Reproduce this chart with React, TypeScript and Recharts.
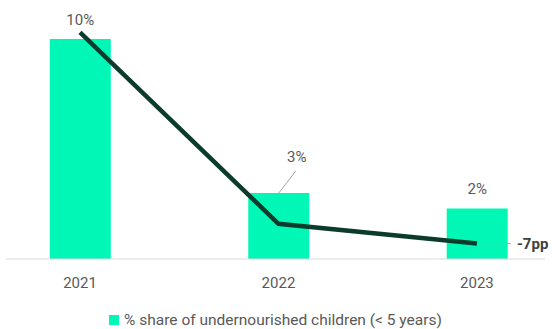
import { ComposedChart, Bar, Line, XAxis, YAxis, Legend, LabelList } from 'recharts';

const years = [2021, 2022, 2023];
const shareValues = [10, 3, 2.3];
const shareLabels = ['10%', '3%', '2%'];
const trendValues = [10.3, 1.6, 0.7];
const changeLabel = '-7pp';
const seriesName = '% share of undernourished children (< 5 years)';

const data = years.map((year, i) => ({
  year,
  share: shareValues[i],
  trend: trendValues[i],
}));

const FONT = 'Roboto, "Liberation Sans", Arial, sans-serif';
const BAR_COLOR = '#00F7B5';
const LINE_COLOR = '#0B3B2C';

const ShareLabel = (props: any) => {
  const { x, y, width, index } = props;
  const cx = x + width / 2;
  if (index === 1) {
    // label pushed up and right, with a small leader line
    return (
      <g>
        <line x1={cx} y1={y} x2={cx + 17} y2={y - 22} stroke="#a6a6a6" strokeWidth={1} />
        <text x={cx + 18} y={y - 31} textAnchor="middle" fontSize={15} fill="#595959" fontFamily={FONT}>
          {shareLabels[index]}
        </text>
      </g>
    );
  }
  return (
    <text x={cx} y={y - 14} textAnchor="middle" fontSize={15} fill="#595959" fontFamily={FONT}>
      {shareLabels[index]}
    </text>
  );
};

const ChangeLabel = (props: any) => {
  const { x, y, index } = props;
  if (index !== years.length - 1) return null;
  return (
    <g>
      <line x1={x + 2} y1={y} x2={x + 34} y2={y} stroke="#a6a6a6" strokeWidth={1} />
      <text x={x + 40} y={y + 5} fontSize={15} fontWeight="bold" fill="#404040" fontFamily={FONT}>
        {changeLabel}
      </text>
    </g>
  );
};

const LegendContent = () => (
  <div style={{ display: 'flex', justifyContent: 'center', alignItems: 'center', paddingTop: 23, lineHeight: '16px', fontFamily: FONT, fontSize: 15.5, color: '#595959' }}>
    <span style={{ display: 'inline-block', width: 10, height: 10, background: BAR_COLOR, marginRight: 5 }} />
    <span>{seriesName}</span>
  </div>
);

export default function App() {
  return (
    <div style={{ position: 'absolute', left: 0, top: 0, background: '#fff' }}>
      <ComposedChart width={552} height={329} data={data} margin={{ top: 17, right: 7, bottom: 0, left: 6 }}>
        <XAxis
          dataKey="year"
          type="number"
          domain={[2020.627, 2023.343]}
          ticks={years}
          tickLine={false}
          axisLine={{ stroke: '#d9d9d9' }}
          tick={{ fontSize: 15, fill: '#595959', fontFamily: FONT }}
          tickMargin={12}
          height={30}
        />
        <YAxis hide domain={[0, 11]} />
        <Legend verticalAlign="bottom" height={40} content={<LegendContent />} />
        <Bar dataKey="share" fill={BAR_COLOR} barSize={61} isAnimationActive={false}>
          <LabelList dataKey="share" content={<ShareLabel />} />
        </Bar>
        <Line
          dataKey="trend"
          type="linear"
          stroke={LINE_COLOR}
          strokeWidth={4.5}
          dot={false}
          isAnimationActive={false}
        >
          <LabelList dataKey="trend" content={<ChangeLabel />} />
        </Line>
      </ComposedChart>
    </div>
  );
}
